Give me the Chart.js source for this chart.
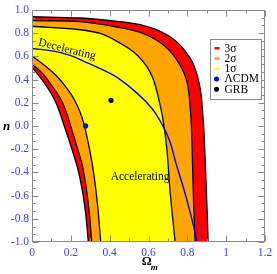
<!DOCTYPE html>
<html>
<head>
<meta charset="utf-8">
<script src="https://cdn.jsdelivr.net/npm/chart.js@4.4.1/dist/chart.umd.min.js"></script>
<style>
  html, body { margin: 0; padding: 0; background: #fff; }
  #wrap { width: 277px; height: 274px; }
</style>
</head>
<body>
<div id="wrap"><canvas id="chart"></canvas></div>
<script>
// axis ticks
const xTickValues = [0, 0.2, 0.4, 0.6, 0.8, 1.0, 1.2];
const yTickValues = [-1.0, -0.8, -0.6, -0.4, -0.2, 0.0, 0.2, 0.4, 0.6, 0.8, 1.0];

// confidence contours [Omega_m, n]
const sigma3Outer = [[0, 0.941], [0.247, 0.93], [0.454, 0.899], [0.557, 0.873], [0.634, 0.835], [0.686, 0.793], [0.732, 0.743], [0.768, 0.688], [0.799, 0.62], [0.825, 0.553], [0.845, 0.468], [0.861, 0.367], [0.871, 0.266], [0.879, 0.114], [0.887, -0.097], [0.894, -0.392], [0.902, -0.73], [0.907, -1.0]];
const sigma3Inner = [[0, 0.502], [0.031, 0.443], [0.065, 0.367], [0.098, 0.283], [0.124, 0.198], [0.144, 0.11], [0.162, 0.02], [0.186, -0.1], [0.211, -0.23], [0.237, -0.375], [0.258, -0.544], [0.276, -0.747], [0.29, -1.0]];
const sigma2Outer = [[0, 0.907], [0.247, 0.899], [0.454, 0.848], [0.557, 0.806], [0.634, 0.747], [0.686, 0.684], [0.727, 0.613], [0.758, 0.536], [0.784, 0.451], [0.802, 0.35], [0.812, 0.215], [0.82, 0.03], [0.825, -0.224], [0.832, -0.646], [0.84, -1.0]];
const sigma2Inner = [[0, 0.532], [0.052, 0.456], [0.093, 0.367], [0.129, 0.283], [0.16, 0.19], [0.186, 0.072], [0.206, -0.038], [0.232, -0.181], [0.258, -0.333], [0.278, -0.519], [0.294, -0.73], [0.308, -1.0]];
const sigma1Outer = [[0, 0.859], [0.237, 0.831], [0.351, 0.797], [0.428, 0.738], [0.495, 0.671], [0.546, 0.603], [0.588, 0.519], [0.619, 0.426], [0.639, 0.325], [0.655, 0.215], [0.67, 0.097], [0.683, -0.038], [0.696, -0.224], [0.711, -0.561], [0.737, -1.0]];
const sigma1Inner = [[0, 0.603], [0.067, 0.519], [0.119, 0.443], [0.16, 0.367], [0.201, 0.274], [0.232, 0.181], [0.258, 0.072], [0.278, -0.055], [0.299, -0.224], [0.32, -0.435], [0.338, -0.688], [0.354, -1.0]];

// LCDM line and the two points
const lcdmCurve = [[0, 0.668], [0.119, 0.643], [0.196, 0.608], [0.273, 0.553], [0.351, 0.494], [0.438, 0.418], [0.541, 0.283], [0.619, 0.148], [0.67, 0.013], [0.711, -0.139], [0.742, -0.325], [0.773, -0.494], [0.799, -0.646], [0.825, -0.814], [0.851, -1.0]];
const lcdmPoint = [[0.276, 0.0]];
const grbPoint = [[0.407, 0.221]];

const legendItems = [
  { label: "3σ", color: "#ff0000", kind: "dash" },
  { label: "2σ", color: "#ffa500", kind: "dash" },
  { label: "1σ", color: "#ffff00", kind: "dash" },
  { label: "ΛCDM", color: "#0000ff", kind: "dot" },
  { label: "GRB", color: "#000000", kind: "dot" },
];

const SERIF = "'Liberation Serif', 'Times New Roman', serif";

const toXY = (arr) => arr.map(([x, y]) => ({ x, y }));

// each contour line fills everything below-left of it; later ones paint over earlier ones
function contourSet(curve, fillColor, order) {
  return {
    data: toXY(curve),
    showLine: true,
    fill: "start",
    backgroundColor: fillColor,
    borderColor: "#000",
    borderWidth: 1.3,
    pointRadius: 0,
    tension: 0.4,
    clip: 0,
    order,
  };
}

const frameTicks = {
  id: "frameTicks",
  afterDatasetsDraw(chart) {
    const { ctx, chartArea: a, scales } = chart;
    const L = Math.round(a.left) + 0.5, R = Math.round(a.right) - 0.5;
    const T = Math.round(a.top) + 0.5, B = Math.round(a.bottom) - 0.5;
    ctx.save();
    ctx.strokeStyle = "#8a8a8a";
    ctx.lineWidth = 1;
    ctx.beginPath();
    for (let i = 0; i <= 12; i++) {
      const px = Math.round(scales.x.getPixelForValue(i * 0.1)) + 0.5;
      const len = i % 2 === 0 ? 6 : 3;
      ctx.moveTo(px, B); ctx.lineTo(px, B - len);
      ctx.moveTo(px, T); ctx.lineTo(px, T + len);
    }
    for (let i = 0; i <= 30; i++) {
      const py = Math.round(scales.y.getPixelForValue(-1 + i * 0.2 / 3)) + 0.5;
      const len = i % 3 === 0 ? 6 : 3;
      ctx.moveTo(L, py); ctx.lineTo(L + len, py);
      ctx.moveTo(R, py); ctx.lineTo(R - len, py);
    }
    ctx.stroke();
    ctx.strokeRect(L, T, R - L, B - T);

    // region labels
    ctx.fillStyle = "#000";
    ctx.font = "11.5px " + SERIF;
    ctx.save();
    ctx.translate(scales.x.getPixelForValue(0.03), scales.y.getPixelForValue(0.695));
    ctx.rotate(14 * Math.PI / 180);
    ctx.fillText("Decelerating", 0, 0);
    ctx.restore();
    ctx.fillText("Accelerating", scales.x.getPixelForValue(0.405), scales.y.getPixelForValue(-0.47));

    // legend box
    const bx = Math.round(a.right) - 55 + 0.5, by = Math.round(a.top) + 29 + 0.5;
    ctx.fillStyle = "#fff";
    ctx.fillRect(bx, by, 51, 60);
    ctx.strokeStyle = "#8a8a8a";
    ctx.strokeRect(bx, by, 51, 60);
    ctx.font = "11.5px " + SERIF;
    ctx.textBaseline = "middle";
    legendItems.forEach((it, i) => {
      const cy = by + 8.5 + i * 10.3;
      ctx.fillStyle = it.color;
      if (it.kind === "dash") {
        ctx.fillRect(bx + 4, cy - 1, 5, 2.5);
      } else {
        ctx.beginPath();
        ctx.arc(bx + 6, cy, 2.5, 0, Math.PI * 2);
        ctx.fill();
      }
      ctx.fillStyle = "#000";
      ctx.fillText(it.label, bx + 14, cy + 0.5);
    });

    // axis titles
    ctx.textBaseline = "alphabetic";
    ctx.fillStyle = "#000";
    ctx.font = "italic bold 13px " + SERIF;
    ctx.fillText("n", 3, scales.y.getPixelForValue(0) + 4);
    const ox = scales.x.getPixelForValue(0.565);
    ctx.font = "bold 12.5px " + SERIF;
    ctx.fillText("Ω", ox, 265);
    ctx.font = "italic bold 9px " + SERIF;
    ctx.fillText("m", ox + 9, 270);
    ctx.restore();
  },
};

const tickFont = { family: SERIF, size: 11.5 };
const tickColor = "#3f3fff";

new Chart(document.getElementById("chart"), {
  type: "scatter",
  data: {
    datasets: [
      { data: toXY(grbPoint), pointRadius: 2.6, backgroundColor: "#000", borderWidth: 0, order: 0 },
      { data: toXY(lcdmPoint), pointRadius: 2.6, backgroundColor: "#0000ff", borderWidth: 0, order: 0 },
      {
        data: toXY(lcdmCurve),
        showLine: true,
        fill: false,
        borderColor: "#0000ff",
        borderWidth: 1.4,
        pointRadius: 0,
        tension: 0.4,
        clip: 0,
        order: 1,
      },
      contourSet(sigma3Inner, "#ffffff", 5),
      contourSet(sigma2Inner, "#ff0000", 6),
      contourSet(sigma1Inner, "#ffa500", 7),
      contourSet(sigma1Outer, "#ffff00", 8),
      contourSet(sigma2Outer, "#ffa500", 9),
      contourSet(sigma3Outer, "#ff0000", 10),
    ],
  },
  options: {
    responsive: true,
    maintainAspectRatio: false,
    animation: false,
    events: [],
    layout: { padding: { top: 5, right: 12, left: 0, bottom: 0 } },
    elements: { line: { capBezierPoints: false } },
    plugins: { legend: { display: false }, tooltip: { enabled: false } },
    scales: {
      x: {
        type: "linear",
        min: 0,
        max: 1.2,
        afterBuildTicks: (s) => { s.ticks = xTickValues.map((value) => ({ value })); },
        afterFit: (s) => { s.height = 32; },
        grid: { display: false, drawTicks: false },
        border: { display: false },
        ticks: {
          padding: 4,
          maxRotation: 0,
          color: tickColor,
          font: tickFont,
          callback: (v) => (Math.abs(v - Math.round(v)) < 1e-9 ? String(Math.round(v)) : v.toFixed(1)),
        },
      },
      y: {
        type: "linear",
        min: -1,
        max: 1,
        afterBuildTicks: (s) => { s.ticks = yTickValues.map((value) => ({ value })); },
        afterFit: (s) => { s.width = 32; },
        grid: { display: false, drawTicks: false },
        border: { display: false },
        ticks: {
          padding: 3,
          color: tickColor,
          font: tickFont,
          callback: (v) => (Math.abs(v) < 1e-9 ? "0.0" : v.toFixed(1)),
        },
      },
    },
  },
  plugins: [frameTicks],
});
</script>
</body>
</html>
